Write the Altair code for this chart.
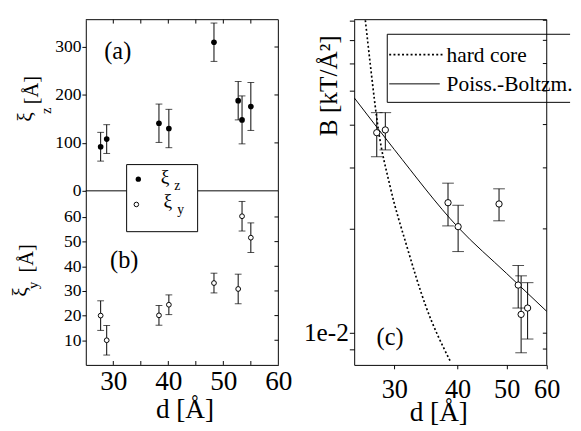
import altair as alt
import pandas as pd

FONT = "Liberation Serif"

# ---------------- data ----------------
d = [27.7, 28.8, 38.3, 40.1, 48.3, 52.7, 53.4, 55.0]
xi_z = [92, 108, 141, 130, 310, 188, 148, 176]
xi_z_err = [30, 30, 40, 40, 40, 40, 50, 50]
xi_y = [20.0, 10.0, 20.1, 24.4, 33.2, 30.8, 60.3, 51.6]
xi_y_err = [6, 6, 4, 4, 4, 6, 6, 6]
B = [0.0379, 0.0386, 0.0238, 0.0203, 0.0236, 0.01377, 0.01133, 0.01182]
B_lo = [0.0323, 0.0338, 0.0204, 0.0172, 0.0211, 0.01182, 0.00878, 0.00962]
B_hi = [0.0433, 0.0433, 0.0271, 0.0234, 0.0261, 0.01568, 0.01464, 0.01399]

hc_d = [26.3, 26.9, 27.9, 29.4, 31.8, 34.6, 38.7]
hc_B = [0.080, 0.0596, 0.0387, 0.0267, 0.0177, 0.0120, 0.0083]
pb_d = [25, 30, 40.1, 50, 60]
pb_B = [0.0478, 0.0339, 0.0202, 0.01487, 0.01156]

ticks_a = [0, 100, 200, 300]
ticks_b = [10, 20, 30, 40, 50, 60]
ticks_x = [30, 40, 50, 60]
ticks_x_minor = [30, 35, 40, 45, 50, 55]
ticks_c = [0.009, 0.01, 0.02, 0.03, 0.04, 0.05, 0.06, 0.07, 0.08]

W = 198
H_A = 176
H_B = 179
H_C = 355
LEG_X1, LEG_X2 = 42, 115

one = pd.DataFrame({"k": [0]})

dfa = pd.DataFrame({"d": d, "v": xi_z,
                    "lo": [v - e for v, e in zip(xi_z, xi_z_err)],
                    "hi": [v + e for v, e in zip(xi_z, xi_z_err)]})
dfb = pd.DataFrame({"d": d, "v": xi_y,
                    "lo": [v - e for v, e in zip(xi_y, xi_y_err)],
                    "hi": [v + e for v, e in zip(xi_y, xi_y_err)]})
dfc = pd.DataFrame({"d": d, "v": B, "lo": B_lo, "hi": B_hi})
dfhc = pd.DataFrame({"d": hc_d, "v": hc_B})
dfpb = pd.DataFrame({"d": pb_d, "v": pb_B})

AX = dict(title=None, grid=False, labelFont=FONT, labelColor="black", labelFlush=False,
          domainColor="black", tickColor="black", domainWidth=1, tickWidth=1)


class Panel:
    def __init__(self, xsc, ysc, xaxis, yaxis):
        self.xsc, self.ysc, self.xaxis, self.yaxis = xsc, ysc, xaxis, yaxis

    def X(self, f):
        return alt.X(f, scale=self.xsc, axis=self.xaxis)

    def Y(self, f):
        return alt.Y(f, scale=self.ysc, axis=self.yaxis)


def txt(s, x, y, size, angle=0, align="left", baseline="alphabetic", font=FONT):
    kw = dict(font=font, fontSize=size, align=align, baseline=baseline, color="black")
    if angle:
        kw["angle"] = angle
    return alt.Chart(pd.DataFrame({"t": [s]})).mark_text(**kw).encode(
        x=alt.value(x), y=alt.value(y), text="t:N")


def hrule(x1, x2, y, dash=None, width=1):
    kw = dict(color="black", strokeWidth=width)
    if dash:
        kw["strokeDash"] = dash
    return alt.Chart(one).mark_rule(**kw).encode(x=alt.value(x1), x2=alt.value(x2), y=alt.value(y))


def vrule(x, y1, y2, opacity=1):
    return alt.Chart(one).mark_rule(color="black", strokeWidth=1, opacity=opacity).encode(
        x=alt.value(x), y=alt.value(y1), y2=alt.value(y2))


def errbars(df, p, cap):
    base = alt.Chart(df)
    r = base.mark_rule(color="black", strokeWidth=1).encode(x=p.X("d:Q"), y=p.Y("lo:Q"), y2="hi:Q")
    t1 = base.mark_tick(orient="horizontal", size=cap, thickness=1, color="black").encode(
        x=p.X("d:Q"), y=p.Y("lo:Q"))
    t2 = base.mark_tick(orient="horizontal", size=cap, thickness=1, color="black").encode(
        x=p.X("d:Q"), y=p.Y("hi:Q"))
    return [r, t1, t2]


def right_ticks(vals, p, w=W):
    return alt.Chart(pd.DataFrame({"v": vals})).mark_rule(color="black").encode(
        y=p.Y("v:Q"), x=alt.value(w - 4), x2=alt.value(w))


def x_ticks(vals, p, y1, y2):
    return alt.Chart(pd.DataFrame({"v": vals})).mark_rule(color="black").encode(
        x=p.X("v:Q"), y=alt.value(y1), y2=alt.value(y2))


xs_lin = alt.Scale(domain=[25, 60], nice=False, zero=False)

# ---------------- panel (a) ----------------
pa = Panel(xs_lin, alt.Scale(domain=[0, 357], nice=False, zero=False), None,
           alt.Axis(values=ticks_a, labelFontSize=18, tickSize=4, labelPadding=1, **AX))
pa_layers = [
    hrule(0, W, 0),
    hrule(0, LEG_X1, H_A), hrule(LEG_X2, W, H_A),
    vrule(W, 0, H_A),
]
pa_layers += errbars(dfa, pa, 7)
pa_layers += [
    alt.Chart(dfa).mark_point(shape="circle", filled=True, size=34, color="black", opacity=1).encode(
        x=pa.X("d:Q"), y=pa.Y("v:Q")),
    right_ticks(ticks_a[1:], pa),
    x_ticks(ticks_x_minor, pa, 0, 4),
    txt("(a)", 19, 40, 25),
    txt("ξ", -55, 105, 22, angle=270),
    txt("z", -36, 97, 15, angle=270),
    txt("[Å]", -49, 87, 21, angle=270),
    vrule(-80, 0, 10, opacity=0),
]
panel_a = alt.layer(*pa_layers).properties(width=W, height=H_A)

# ---------------- panel (b) ----------------
pb = Panel(xs_lin, alt.Scale(domain=[0, 70.6], nice=False, zero=False),
           alt.Axis(values=ticks_x, labelFontSize=28, tickSize=0, labelPadding=25,
                    labelBaseline="alphabetic", **AX),
           alt.Axis(values=ticks_b, labelFontSize=18, tickSize=4, labelPadding=1, **AX))
pb_layers = [vrule(W, 0, H_B)]
pb_layers += errbars(dfb, pb, 7)
pb_layers += [
    alt.Chart(dfb).mark_point(shape="circle", size=24, fill="white", stroke="black",
                              strokeWidth=1, opacity=1, fillOpacity=1).encode(
        x=pb.X("d:Q"), y=pb.Y("v:Q")),
    right_ticks(ticks_b, pb),
    x_ticks(ticks_x_minor, pb, H_B - 4, H_B),
    txt("(b)", 25, 79, 25),
    txt("ξ", -60, 109, 22, angle=270),
    txt("y", -49, 101, 15, angle=270),
    txt("[Å]", -54, 84, 21, angle=270),
    txt("d [Å]", 102, 234, 28, align="center"),
    vrule(-80, 0, 10, opacity=0),
    # legend of (a)/(b), drawn across the boundary
    alt.Chart(one).mark_rect(fill="white", stroke="black", strokeWidth=1, opacity=1).encode(
        x=alt.value(LEG_X1), x2=alt.value(LEG_X2), y=alt.value(-27), y2=alt.value(42)),
    alt.Chart(one).mark_point(shape="circle", filled=True, size=30, color="black", opacity=1).encode(
        x=alt.value(54), y=alt.value(-12)),
    txt("ξ", 77, -8, 20),
    txt("z", 91, -1, 14),
    alt.Chart(one).mark_point(shape="circle", size=22, fill="white", stroke="black",
                              strokeWidth=1, opacity=1).encode(x=alt.value(52), y=alt.value(14)),
    txt("ξ", 80, 17, 20),
    txt("y", 94, 24, 14),
]
panel_b = alt.layer(*pb_layers).properties(width=W, height=H_B)

# ---------------- panel (c) ----------------
pc = Panel(alt.Scale(type="log", domain=[25, 60], nice=False),
           alt.Scale(type="log", domain=[0.0081, 0.0803], nice=False),
           alt.Axis(values=ticks_x, labelFontSize=27, tickSize=4, labelPadding=30,
                    labelBaseline="alphabetic", format="d", **AX),
           alt.Axis(values=ticks_c, labelFontSize=26, tickSize=5, labelPadding=1,
                    labelExpr="abs(datum.value - 0.01) < 1e-9 ? '1e-2' : ''", **AX))
pc_layers = [
    hrule(0, W, 0), vrule(W, 0, H_C),
    alt.Chart(dfhc).mark_line(color="black", strokeWidth=1.7, strokeDash=[2, 2.4],
                              interpolate="monotone", clip=True).encode(
        x=pc.X("d:Q"), y=pc.Y("v:Q")),
    alt.Chart(dfpb).mark_line(color="black", strokeWidth=1, interpolate="monotone", clip=True).encode(
        x=pc.X("d:Q"), y=pc.Y("v:Q")),
]
pc_layers += errbars(dfc, pc, 12)
pc_layers += [
    alt.Chart(dfc).mark_point(shape="circle", size=42, fill="white", stroke="black",
                              strokeWidth=1, opacity=1).encode(x=pc.X("d:Q"), y=pc.Y("v:Q")),
    right_ticks(ticks_c, pc),
    txt("(c)", 23, 335, 25),
    txt("B [kT/Å²]", -18, 68, 26, angle=270, align="center"),
    txt("d [Å]", 87, 413, 28, align="center"),
    vrule(-60, 0, 10, opacity=0),
    # legend of (c)
    hrule(34, 222, 15),
    hrule(34, 222, 85),
    vrule(34, 15, 85),
    hrule(36, 92, 36, dash=[2, 2.4], width=1.7),
    hrule(36, 88, 66),
    txt("hard core", 95, 43, 22),
    txt("Poiss.-Boltzm.", 95, 73, 22),
]
panel_c = alt.layer(*pc_layers).properties(width=W, height=H_C)

left = alt.vconcat(panel_a, panel_b, spacing=0, bounds="flush")
chart = alt.hconcat(left, panel_c, spacing=4).properties(
    padding={"left": 0, "top": 5, "right": 0, "bottom": 0}
).configure(font=FONT).configure_view(stroke="transparent", strokeWidth=0)

chart.save("out.html", embed_options={"renderer": "svg", "actions": False})
